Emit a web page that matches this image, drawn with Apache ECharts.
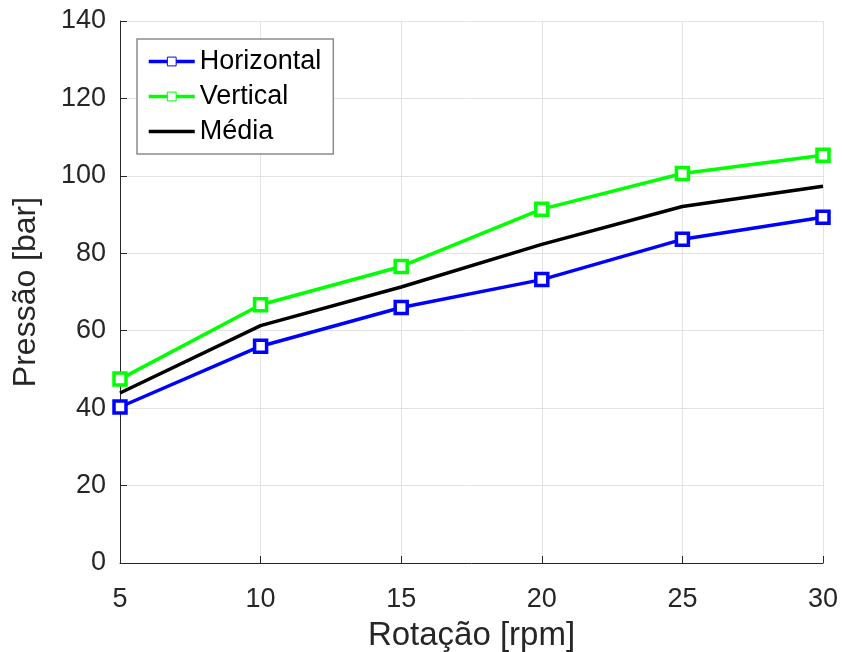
<!DOCTYPE html>
<html>
<head>
<meta charset="utf-8">
<script src="https://cdn.jsdelivr.net/npm/echarts@6/dist/echarts.min.js"></script>
<style>
  html, body { margin: 0; padding: 0; background: #fff; }
  #chart { width: 842px; height: 652px; }
</style>
</head>
<body>
<div id="chart"></div>
<script>
// rotação [rpm]
const rotacao = [5, 10, 15, 20, 25, 30];
// pressão [bar]
const horizontal = [40.3, 56.0, 66.0, 73.2, 83.6, 89.3];
const vertical = [47.5, 66.7, 76.6, 91.4, 100.6, 105.3];
const media = [43.9, 61.3, 71.3, 82.3, 92.1, 97.3];

const yTicks = { min: 0, max: 140, step: 20 };
const xTicks = { min: 5, max: 30, step: 5 };

function pares(xs, ys) {
  return xs.map((x, i) => [x, ys[i]]);
}

let myChart = echarts.init(document.getElementById('chart'));

const fonte = 'Liberation Sans';
const corTexto = '#262626';

let option = {
  animation: false,
  textStyle: { fontFamily: fonte },
  grid: { left: 120, right: 19, top: 21, bottom: 89, containLabel: false, outerBoundsMode: 'none' },
  legend: {
    orient: 'vertical',
    left: 137,
    top: 39,
    padding: [9, 12, 9, 10],
    itemGap: 8,
    itemWidth: 46,
    itemHeight: 11,
    borderColor: '#8c8c8c',
    borderWidth: 1.5,
    backgroundColor: '#fff',
    itemStyle: { borderWidth: 1 },
    lineStyle: { width: 3.5 },
    textStyle: { fontSize: 27, color: '#000', fontFamily: fonte },
    data: [
      'Horizontal',
      'Vertical',
      { name: 'Média', itemStyle: { color: 'rgba(0,0,0,0)', borderColor: 'rgba(0,0,0,0)' } }
    ]
  },
  xAxis: {
    type: 'value',
    min: xTicks.min,
    max: xTicks.max,
    interval: xTicks.step,
    name: 'Rotação [rpm]',
    nameLocation: 'middle',
    nameGap: 56,
    nameTextStyle: { fontSize: 33, color: corTexto },
    axisLine: { lineStyle: { color: '#262626', width: 1 } },
    axisTick: { inside: true, length: 7, lineStyle: { color: '#262626' } },
    axisLabel: { fontSize: 27, color: corTexto, margin: 23 },
    splitLine: { show: true, lineStyle: { color: '#e3e3e3', width: 1 } }
  },
  yAxis: {
    type: 'value',
    min: yTicks.min,
    max: yTicks.max,
    interval: yTicks.step,
    name: 'Pressão [bar]',
    nameLocation: 'middle',
    nameGap: 78,
    nameTextStyle: { fontSize: 32, color: corTexto },
    axisLine: { show: true, lineStyle: { color: '#262626', width: 1 } },
    axisTick: { show: true, inside: true, length: 7, lineStyle: { color: '#262626' } },
    axisLabel: { fontSize: 27, color: corTexto, margin: 14 },
    splitLine: { show: true, lineStyle: { color: '#e3e3e3', width: 1 } }
  },
  series: [
    {
      name: 'Horizontal',
      type: 'line',
      data: pares(rotacao, horizontal),
      symbol: 'rect',
      symbolSize: 12,
      lineStyle: { width: 3.5, color: '#0000ff' },
      itemStyle: { color: '#fff', borderColor: '#0000ff', borderWidth: 3.5 }
    },
    {
      name: 'Vertical',
      type: 'line',
      data: pares(rotacao, vertical),
      symbol: 'rect',
      symbolSize: 12,
      lineStyle: { width: 3.5, color: '#00ff00' },
      itemStyle: { color: '#fff', borderColor: '#00ff00', borderWidth: 3.5 }
    },
    {
      name: 'Média',
      type: 'line',
      data: pares(rotacao, media),
      symbol: 'none',
      lineStyle: { width: 3.5, color: '#000000' },
      itemStyle: { color: '#000000' }
    }
  ]
};

myChart.setOption(option);
</script>
</body>
</html>
